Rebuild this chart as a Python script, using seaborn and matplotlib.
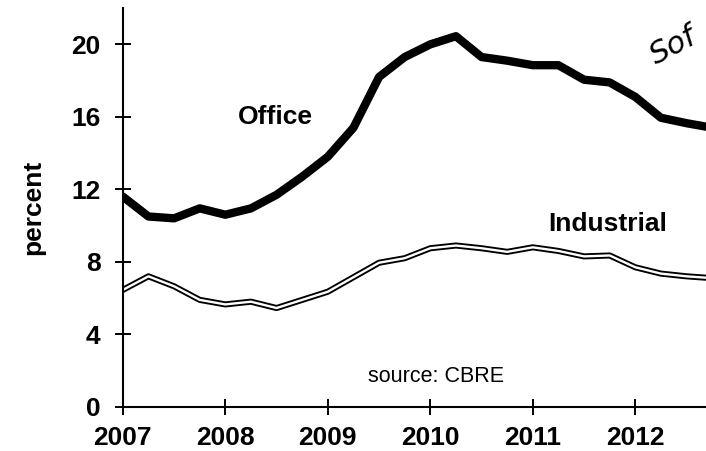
import numpy as np
import pandas as pd
import seaborn as sns
import matplotlib.pyplot as plt

# quarterly vacancy rates
quarters = [2007.0, 2007.25, 2007.5, 2007.75, 2008.0, 2008.25, 2008.5, 2008.75,
            2009.0, 2009.25, 2009.5, 2009.75, 2010.0, 2010.25, 2010.5, 2010.75,
            2011.0, 2011.25, 2011.5, 2011.75, 2012.0, 2012.25, 2012.5, 2012.75]
office = [11.6, 10.5, 10.4, 10.95, 10.6, 10.95, 11.7, 12.7,
          13.8, 15.4, 18.2, 19.3, 20.0, 20.45, 19.3, 19.1,
          18.85, 18.85, 18.05, 17.9, 17.1, 15.95, 15.65, 15.4]
industrial = [6.45, 7.2, 6.65, 5.9, 5.65, 5.8, 5.45, 5.9,
              6.35, 7.15, 7.95, 8.2, 8.75, 8.9, 8.75, 8.55,
              8.8, 8.6, 8.3, 8.35, 7.7, 7.35, 7.2, 7.1]
year_ticks = [2007, 2008, 2009, 2010, 2011, 2012]
pct_ticks = [0, 4, 8, 12, 16, 20]

df = pd.DataFrame({"date": quarters, "office": office, "industrial": industrial})

sns.set_style("ticks")
plt.rcParams['font.family'] = ['Liberation Sans', 'DejaVu Sans']
plt.rcParams.update({"text.color": "black", "axes.labelcolor": "black",
                     "xtick.color": "black", "ytick.color": "black",
                     "axes.edgecolor": "black"})

fig = plt.figure(figsize=(7.06, 4.51), dpi=100)
ax = fig.add_axes([0.174, 0.098, 0.826, 0.884])

sns.lineplot(data=df, x="date", y="office", color="black", lw=6, ax=ax)
# industrial: drawn as a hollow double line
sns.lineplot(data=df, x="date", y="industrial", color="black", lw=4.4, ax=ax)
sns.lineplot(data=df, x="date", y="industrial", color="white", lw=1.7, ax=ax)

ax.set_xlim(2007, 2012.69)
ax.set_ylim(0, 22)
ax.set_xticks(year_ticks)
ax.set_yticks(pct_ticks)
ax.set_xticklabels([str(y) for y in year_ticks], fontsize=19, fontweight="bold")
ax.set_yticklabels([str(p) for p in pct_ticks], fontsize=19, fontweight="bold")
ax.tick_params(direction="inout", length=12, width=1.4)
ax.tick_params(axis="y", pad=10)
ax.tick_params(axis="x", pad=8)
ax.set_xlabel("")
ax.set_ylabel("percent", fontsize=19, fontweight="bold", labelpad=19)
for s in ["top", "right"]:
    ax.spines[s].set_visible(False)
for s in ["left", "bottom"]:
    ax.spines[s].set_linewidth(1.5)

ax.text(2008.49, 16.0, "Office", fontsize=19, fontweight="bold", ha="center", va="center")
ax.text(2011.73, 10.1, "Industrial", fontsize=19, fontweight="bold", ha="center", va="center")
ax.text(2010.06, 1.65, "source: CBRE", fontsize=15.5, ha="center", va="center")
# handwritten note in the corner
ax.text(2012.37, 19.9, "Sof", fontsize=22, style="italic", rotation=28,
        ha="center", va="center", family="DejaVu Sans", fontweight="light")

fig.savefig("out.png", dpi=100)
